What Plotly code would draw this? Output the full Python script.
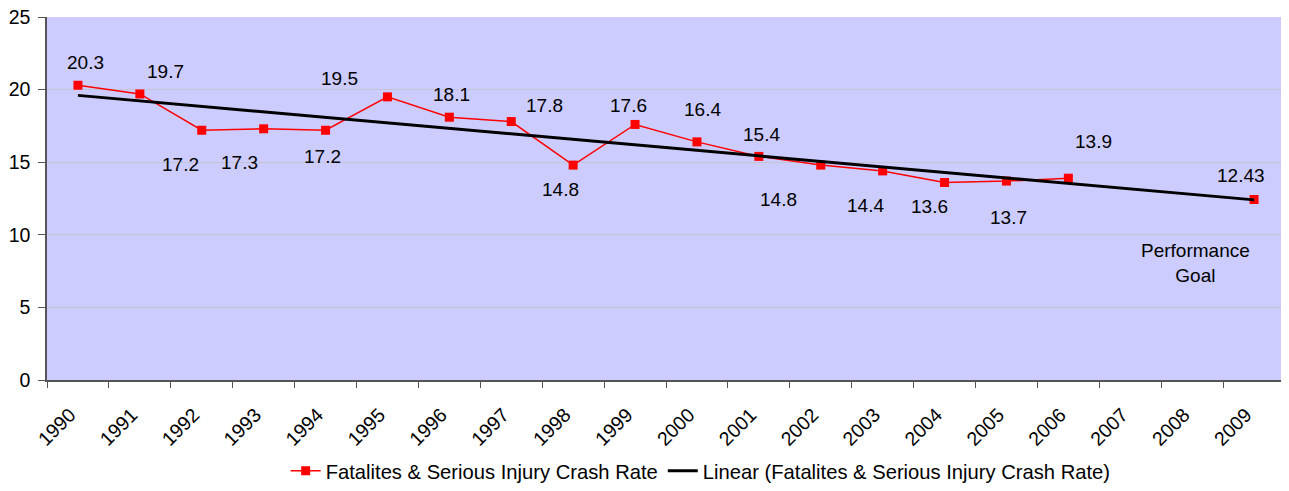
import numpy as np
import plotly.graph_objects as go

years = [str(y) for y in range(1990, 2010)]
rates = [20.3, 19.7, 17.2, 17.3, 17.2, 19.5, 18.1, 17.8, 14.8, 17.6,
         16.4, 15.4, 14.8, 14.4, 13.6, 13.7, 13.9, None, None, 12.43]
label_texts = ["20.3", "19.7", "17.2", "17.3", "17.2", "19.5", "18.1", "17.8", "14.8", "17.6",
               "16.4", "15.4", "14.8", "14.4", "13.6", "13.7", "13.9", None, None, "12.43"]
# pixel offsets of each data label from its point (dx, dy; +dy = down on screen)
label_offsets = [(8, -22), (26, -21), (-21, 35), (-24, 35), (-3, 27), (-48, -17), (2, -22),
                 (33, -15), (-13, 25), (-7, -18), (6, -31), (3, -21), (-42, 35), (-17, 36),
                 (-15, 25), (2, 37), (25, -36), None, None, (-13, -23)]

series_name = "Fatalites & Serious Injury Crash Rate"
trend_name = "Linear (Fatalites & Serious Injury Crash Rate)"

# linear trend computed from the data (category index as x)
idx = np.array([i for i, v in enumerate(rates) if v is not None], dtype=float)
vals = np.array([v for v in rates if v is not None], dtype=float)
slope, intercept = np.polyfit(idx, vals, 1)
trend = [intercept + slope * i for i in range(len(years))]

FONT = "Liberation Sans, Arial, sans-serif"
AXIS_COLOR = "#555555"

fig = go.Figure()
fig.add_trace(go.Scatter(
    x=years, y=rates, name=series_name, mode="lines+markers",
    line=dict(color="#FF0000", width=1.5),
    marker=dict(symbol="square", size=9, color="#FF0000"),
    connectgaps=False,
))
fig.add_trace(go.Scatter(
    x=years, y=trend, name=trend_name, mode="lines",
    line=dict(color="#000000", width=3),
))

annotations = []
for i, (v, t, off) in enumerate(zip(rates, label_texts, label_offsets)):
    if v is None:
        continue
    annotations.append(dict(
        x=i, y=v, xref="x", yref="y", text=t, showarrow=False,
        xshift=off[0], yshift=-off[1] + 1,
        font=dict(family=FONT, size=19, color="#000000"),
    ))
annotations.append(dict(
    x=years.index("2008"), y=8.05, xref="x", yref="y", text="Performance<br>Goal",
    showarrow=False, xshift=3,
    font=dict(family=FONT, size=19, color="#000000"),
))

# the page body adds an 8px margin, so the figure is sized to fit the window
fig.update_layout(
    width=1281, height=483,
    margin=dict(l=39, r=4, t=9, b=111),
    paper_bgcolor="white",
    plot_bgcolor="#CCCCFF",
    font=dict(family=FONT, size=19, color="#000000"),
    showlegend=True,
    legend=dict(
        orientation="h", x=0.528, xanchor="center",
        yref="container", y=-0.01, yanchor="bottom",
        font=dict(family=FONT, size=20.2, color="#000000"),
        bgcolor="rgba(0,0,0,0)", itemwidth=30, tracegroupgap=0,
    ),
    annotations=annotations,
)
fig.update_xaxes(
    type="category", categoryorder="array", categoryarray=years,
    tickson="boundaries", ticks="outside", ticklen=6, tickcolor=AXIS_COLOR,
    tickangle=-45, showline=True, linecolor=AXIS_COLOR, linewidth=1.5,
    showgrid=False, tickfont=dict(family=FONT, size=19.5),
    ticklabelstandoff=14, ticklabelshift=-8,
    range=[-0.5, 19.5], automargin=False,
)
fig.update_yaxes(
    range=[0, 25], dtick=5, tick0=0, ticks="outside", ticklen=7, tickcolor=AXIS_COLOR,
    showline=True, linecolor=AXIS_COLOR, linewidth=1.5,
    showgrid=True, gridcolor="#C4C4D4", gridwidth=1, zeroline=False,
    tickfont=dict(family=FONT, size=19.5), ticklabelstandoff=4, automargin=False,
    ticklabeloverflow="allow",
)

fig.write_html("out.html")
